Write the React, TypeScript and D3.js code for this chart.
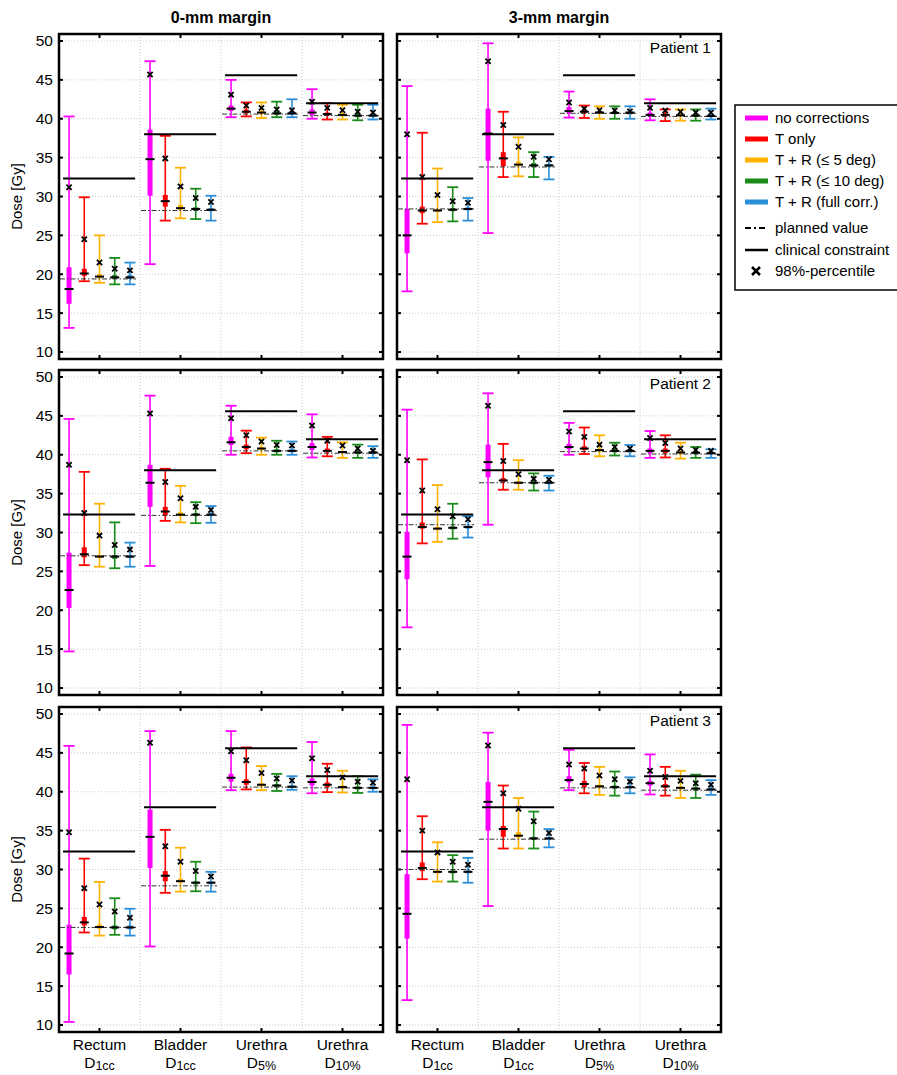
import React from 'react';
import * as d3 from 'd3';

// ---- data ----
const methods = ['no corrections', 'T only', 'T + R (\u2264 5 deg)', 'T + R (\u2264 10 deg)', 'T + R (full corr.)'];
const methodColors = ['#ff00ff', '#ff0000', '#ffb300', '#1a8c1a', '#2a8fd8'];
const structures = ['Rectum', 'Bladder', 'Urethra', 'Urethra'];
const metrics = ['1cc', '1cc', '5%', '10%'];
const constraints = [32.3, 38.0, 45.6, 42.0];
const patients = ['Patient 1', 'Patient 2', 'Patient 3'];
const margins = ['0-mm margin', '3-mm margin'];
const yTicks = [10, 15, 20, 25, 30, 35, 40, 45, 50];

// planned value per structure
const plannedP1m0 = [19.4, 28.2, 40.6, 40.4];
const plannedP1m3 = [28.4, 33.8, 40.7, 40.3];
const plannedP2m0 = [27.0, 32.2, 40.5, 40.2];
const plannedP2m3 = [31.0, 36.4, 40.4, 40.1];
const plannedP3m0 = [22.55, 27.9, 40.6, 40.5];
const plannedP3m3 = [30.0, 33.9, 40.5, 40.2];

// per structure, per method: [min, q1, median, q3, max, p98]
const statsP1m0 = [
  [[13.1, 16.2, 18.1, 20.9, 40.3, 31.2], [19.1, 19.8, 20.1, 20.7, 29.9, 24.5], [18.9, 19.5, 19.7, 20.0, 25.0, 21.5], [18.7, 19.4, 19.6, 19.9, 22.1, 20.7], [18.7, 19.4, 19.6, 19.9, 21.5, 20.5]],
  [[21.3, 30.1, 34.8, 38.6, 47.4, 45.7], [26.9, 28.7, 29.4, 30.2, 37.8, 34.9], [27.2, 28.3, 28.5, 28.9, 33.7, 31.3], [27.1, 28.2, 28.4, 28.6, 31.0, 29.8], [26.9, 28.1, 28.3, 28.5, 30.1, 29.3]],
  [[40.2, 41.0, 41.3, 41.7, 45.0, 43.1], [40.3, 40.7, 40.9, 41.2, 42.1, 41.7], [40.1, 40.6, 40.8, 41.0, 42.1, 41.4], [40.2, 40.5, 40.7, 40.9, 42.2, 41.2], [40.2, 40.5, 40.7, 40.9, 42.5, 41.1]],
  [[40.0, 40.5, 40.8, 41.2, 43.8, 42.2], [39.9, 40.4, 40.6, 40.8, 42.0, 41.4], [39.9, 40.3, 40.5, 40.7, 41.8, 41.1], [39.8, 40.2, 40.4, 40.6, 41.8, 40.9], [39.9, 40.2, 40.4, 40.6, 41.8, 40.8]],
];
const statsP1m3 = [
  [[17.8, 22.7, 25.0, 28.4, 44.2, 38.0], [26.5, 27.85, 28.2, 28.7, 38.2, 32.5], [26.7, 28.0, 28.2, 28.4, 33.6, 30.2], [26.8, 28.1, 28.3, 28.5, 31.2, 29.4], [26.9, 28.2, 28.4, 28.6, 29.8, 29.2]],
  [[25.3, 34.6, 38.1, 41.3, 49.7, 47.4], [32.5, 33.9, 34.9, 35.7, 40.9, 39.2], [32.6, 33.9, 34.1, 34.5, 37.6, 36.4], [32.5, 33.8, 34.0, 34.3, 35.7, 35.1], [32.2, 33.8, 34.0, 34.2, 35.1, 34.8]],
  [[40.15, 40.7, 41.0, 41.5, 43.5, 42.1], [40.1, 40.7, 40.9, 41.1, 41.7, 41.3], [40.0, 40.6, 40.8, 41.0, 41.6, 41.1], [40.0, 40.6, 40.75, 40.9, 41.6, 41.05], [40.0, 40.6, 40.8, 40.9, 41.6, 40.95]],
  [[39.8, 40.3, 40.5, 40.8, 42.5, 41.4], [39.7, 40.3, 40.5, 40.7, 41.2, 41.05], [39.75, 40.3, 40.45, 40.6, 41.2, 40.9], [39.75, 40.25, 40.4, 40.55, 41.2, 40.8], [39.9, 40.2, 40.35, 40.5, 41.3, 40.8]],
];
const statsP2m0 = [
  [[14.7, 20.3, 22.6, 27.4, 44.6, 38.7], [25.8, 26.8, 27.2, 28.1, 37.8, 32.5], [25.6, 26.7, 26.9, 27.1, 33.7, 29.6], [25.4, 26.6, 26.9, 27.1, 31.3, 28.4], [25.6, 26.7, 26.9, 27.1, 28.7, 27.8]],
  [[25.7, 33.3, 36.4, 38.7, 47.6, 45.3], [31.5, 32.2, 32.7, 33.3, 38.2, 36.5], [31.3, 32.1, 32.3, 32.6, 36.0, 34.4], [31.2, 32.1, 32.3, 32.5, 33.9, 33.3], [31.25, 32.1, 32.3, 32.5, 33.4, 32.9]],
  [[40.0, 41.25, 41.6, 42.3, 46.3, 44.7], [40.2, 40.7, 41.0, 41.3, 43.1, 42.5], [40.0, 40.6, 40.8, 41.0, 42.2, 41.7], [40.0, 40.3, 40.5, 40.7, 41.8, 41.25], [40.0, 40.3, 40.5, 40.7, 41.7, 41.2]],
  [[39.65, 40.6, 41.0, 41.5, 45.2, 43.75], [39.8, 40.3, 40.5, 40.8, 42.3, 41.8], [39.6, 40.2, 40.35, 40.5, 41.6, 41.2], [39.6, 40.1, 40.3, 40.45, 41.3, 40.8], [39.6, 40.1, 40.3, 40.45, 41.1, 40.5]],
];
const statsP2m3 = [
  [[17.8, 24.0, 26.9, 30.1, 45.8, 39.3], [28.6, 30.5, 30.7, 31.3, 39.4, 35.4], [28.8, 30.3, 30.5, 30.7, 36.1, 33.0], [29.2, 30.4, 30.6, 30.8, 33.7, 32.1], [29.35, 30.5, 30.7, 30.9, 32.1, 31.7]],
  [[31.0, 37.1, 39.05, 41.3, 47.9, 46.3], [35.5, 36.5, 36.7, 37.0, 41.4, 39.2], [35.5, 36.2, 36.4, 36.6, 39.3, 37.5], [35.4, 36.2, 36.4, 36.6, 37.6, 36.9], [35.4, 36.2, 36.4, 36.6, 37.3, 36.8]],
  [[40.0, 40.7, 41.0, 41.4, 44.1, 43.0], [40.1, 40.6, 40.8, 41.1, 43.5, 42.3], [39.8, 40.4, 40.6, 40.8, 42.5, 41.3], [39.9, 40.3, 40.5, 40.7, 41.55, 41.0], [39.8, 40.3, 40.5, 40.65, 41.25, 40.8]],
  [[39.6, 40.2, 40.5, 40.8, 43.05, 42.15], [39.65, 40.2, 40.5, 40.8, 42.5, 41.5], [39.5, 40.1, 40.3, 40.5, 41.55, 40.8], [39.6, 40.1, 40.25, 40.4, 41.0, 40.6], [39.6, 40.05, 40.2, 40.35, 40.7, 40.5]],
];
const statsP3m0 = [
  [[10.4, 16.5, 19.2, 22.9, 45.9, 34.8], [21.9, 22.8, 23.2, 23.9, 31.4, 27.6], [21.5, 22.4, 22.6, 22.9, 28.4, 25.5], [21.6, 22.3, 22.55, 22.8, 26.3, 24.6], [21.5, 22.3, 22.55, 22.8, 24.95, 23.8]],
  [[20.1, 30.2, 34.2, 37.7, 47.8, 46.3], [27.0, 28.5, 29.2, 29.8, 35.1, 33.0], [27.15, 28.3, 28.5, 28.8, 32.8, 31.0], [27.2, 28.1, 28.3, 28.5, 31.0, 29.8], [27.15, 28.1, 28.3, 28.5, 29.7, 29.1]],
  [[40.2, 41.3, 41.8, 42.3, 47.8, 45.2], [40.3, 40.9, 41.25, 41.6, 45.7, 44.05], [40.2, 40.7, 40.9, 41.1, 43.3, 42.4], [40.1, 40.6, 40.8, 41.0, 42.3, 41.7], [40.25, 40.5, 40.65, 40.8, 42.0, 41.45]],
  [[39.8, 40.8, 41.25, 41.7, 46.4, 44.3], [39.95, 40.6, 40.9, 41.2, 43.6, 42.8], [39.9, 40.4, 40.6, 40.8, 42.7, 41.85], [39.85, 40.3, 40.5, 40.7, 42.0, 41.3], [40.0, 40.3, 40.5, 40.7, 41.6, 41.15]],
];
const statsP3m3 = [
  [[13.2, 21.1, 24.3, 29.4, 48.6, 41.6], [28.75, 29.8, 30.2, 30.9, 36.85, 35.0], [28.45, 29.5, 29.7, 29.9, 33.5, 32.2], [28.45, 29.5, 29.7, 29.9, 31.85, 31.0], [28.3, 29.5, 29.7, 29.9, 31.5, 30.6]],
  [[25.3, 35.0, 38.7, 41.25, 47.6, 45.95], [32.7, 34.2, 35.2, 35.6, 40.8, 39.8], [32.7, 34.1, 34.35, 34.8, 39.2, 37.8], [32.7, 33.8, 34.0, 34.2, 37.45, 36.2], [32.85, 33.8, 34.0, 34.2, 35.2, 34.7]],
  [[40.2, 41.2, 41.5, 42.0, 45.4, 43.5], [39.8, 40.6, 41.0, 41.4, 43.7, 43.0], [39.6, 40.5, 40.7, 40.9, 43.2, 42.1], [39.5, 40.4, 40.6, 40.8, 42.6, 41.6], [39.8, 40.4, 40.6, 40.8, 41.85, 41.3]],
  [[39.65, 40.8, 41.1, 41.4, 44.8, 42.7], [39.5, 40.5, 40.7, 41.0, 43.2, 41.9], [39.2, 40.3, 40.5, 40.7, 42.7, 41.4], [39.2, 40.2, 40.4, 40.6, 42.2, 41.1], [39.6, 40.1, 40.3, 40.5, 41.5, 40.9]],
];

const panelStats = [[statsP1m0, statsP1m3], [statsP2m0, statsP2m3], [statsP3m0, statsP3m3]];
const panelPlanned = [[plannedP1m0, plannedP1m3], [plannedP2m0, plannedP2m3], [plannedP3m0, plannedP3m3]];

// ---- layout ----
const W = 897;
const H = 1075;
const colX = [59, 397];
const rowY = [34, 370, 707];
const panelW = 324;
const panelH = 325;
const font = '"Liberation Sans", Arial, Helvetica, sans-serif';

type PanelProps = {row: number; col: number};

const Panel: React.FC<PanelProps> = ({row, col}) => {
  const x0 = colX[col];
  const y0 = rowY[row];
  const stats = panelStats[row][col];
  const planned = panelPlanned[row][col];

  const y = d3.scaleLinear().domain([9.1, 50.9]).range([y0 + panelH, y0]);
  const xBand = d3.scaleBand<number>().domain([0, 1, 2, 3]).range([x0, x0 + panelW]);
  const bw = xBand.bandwidth();
  const xm = d3.scalePoint<string>().domain(methods).range([-0.376 * bw, 0.376 * bw]);
  const cx = (i: number) => xBand(i)! + bw / 2;

  const capW = 11;
  const medW = 9;
  const boxW = 5;
  const xs = 2.6;

  return (
    <g>
      {/* grid */}
      {yTicks.map(t => (
        <line key={'gy' + t} x1={x0} x2={x0 + panelW} y1={y(t)} y2={y(t)}
              stroke="#c8c8c8" strokeWidth={1} strokeDasharray="1,2"/>
      ))}
      {[1, 2, 3].map(i => (
        <line key={'gx' + i} x1={xBand(i)!} x2={xBand(i)!} y1={y0} y2={y0 + panelH}
              stroke="#c8c8c8" strokeWidth={1} strokeDasharray="1,2"/>
      ))}

      {/* ticks */}
      {yTicks.map(t => (
        <g key={'t' + t}>
          <line x1={x0} x2={x0 + 4} y1={y(t)} y2={y(t)} stroke="#000" strokeWidth={2}/>
          <line x1={x0 + panelW - 4} x2={x0 + panelW} y1={y(t)} y2={y(t)} stroke="#000" strokeWidth={2}/>
        </g>
      ))}
      {[0, 1, 2, 3].map(i => (
        <g key={'tx' + i}>
          <line x1={cx(i)} x2={cx(i)} y1={y0} y2={y0 + 4} stroke="#000" strokeWidth={2}/>
          <line x1={cx(i)} x2={cx(i)} y1={y0 + panelH - 4} y2={y0 + panelH} stroke="#000" strokeWidth={2}/>
        </g>
      ))}

      {/* groups */}
      {stats.map((group, gi) => {
        const c = cx(gi);
        return (
          <g key={'g' + gi}>
            {group.map((s, mi) => {
              const [mn, q1, , q3, mx] = s;
              const x = c + xm(methods[mi])!;
              const col = methodColors[mi];
              return (
                <g key={'m' + mi}>
                  <line x1={x} x2={x} y1={y(mn)} y2={y(mx)} stroke={col} strokeWidth={1.6}/>
                  <line x1={x - capW / 2} x2={x + capW / 2} y1={y(mn)} y2={y(mn)} stroke={col} strokeWidth={1.8}/>
                  <line x1={x - capW / 2} x2={x + capW / 2} y1={y(mx)} y2={y(mx)} stroke={col} strokeWidth={1.8}/>
                  <rect x={x - boxW / 2} width={boxW} y={y(q3)} height={y(q1) - y(q3)} fill={col}/>
                </g>
              );
            })}
            {/* planned value */}
            <line x1={xBand(gi)! + 1} x2={xBand(gi)! + bw - 4} y1={y(planned[gi])} y2={y(planned[gi])}
                  stroke="#333" strokeWidth={1} strokeDasharray="5,2,1.5,2"/>
            {/* clinical constraint */}
            <line x1={c - 0.45 * bw} x2={c + 0.44 * bw} y1={y(constraints[gi])} y2={y(constraints[gi])}
                  stroke="#000" strokeWidth={2}/>
            {group.map((s, mi) => {
              const x = c + xm(methods[mi])!;
              const ym = y(s[2]);
              const yp = y(s[5]);
              return (
                <g key={'k' + mi}>
                  <line x1={x - medW / 2} x2={x + medW / 2} y1={ym} y2={ym} stroke="#000" strokeWidth={2}/>
                  <path d={`M${x - xs},${yp - xs}L${x + xs},${yp + xs}M${x - xs},${yp + xs}L${x + xs},${yp - xs}`}
                        stroke="#000" strokeWidth={1.8}/>
                </g>
              );
            })}
          </g>
        );
      })}

      {/* frame */}
      <rect x={x0} y={y0} width={panelW} height={panelH} fill="none" stroke="#000" strokeWidth={2.5}/>

      {/* y tick labels */}
      {col === 0 && yTicks.map(t => (
        <text key={'yl' + t} x={x0 - 6} y={y(t)} dy="0.35em" textAnchor="end" fontSize={15.5} fontFamily={font}>{t}</text>
      ))}
      {col === 0 && (
        <text transform={`translate(22,${y0 + panelH / 2}) rotate(-90)`} textAnchor="middle" fontSize={15}
              fontFamily={font}>Dose [Gy]</text>
      )}
      {col === 1 && (
        <text x={x0 + panelW - 10} y={y0 + 19} textAnchor="end" fontSize={15.5} fontFamily={font}>{patients[row]}</text>
      )}
      {row === 2 && structures.map((s, i) => (
        <g key={'xl' + i}>
          <text x={cx(i)} y={y0 + panelH + 18} textAnchor="middle" fontSize={15.5} fontFamily={font}>{s}</text>
          <text x={cx(i)} y={y0 + panelH + 36} textAnchor="middle" fontSize={15.5} fontFamily={font}>
            D<tspan fontSize={12.5} dy={2}>{metrics[i]}</tspan>
          </text>
        </g>
      ))}
      {row === 0 && (
        <text x={x0 + panelW / 2} y={y0 - 11} textAnchor="middle" fontSize={16} fontWeight="bold"
              fontFamily={font}>{margins[col]}</text>
      )}
    </g>
  );
};

const Legend: React.FC = () => {
  const lx = 735;
  const ly = 105;
  const itemY = [118, 139, 160, 181, 202];
  return (
    <g fontFamily={font} fontSize={15}>
      <rect x={lx} y={ly} width={200} height={185} fill="#fff" stroke="#000" strokeWidth={1.5}/>
      {methods.map((m, i) => (
        <g key={m}>
          <rect x={745} y={itemY[i] - 2.5} width={23} height={5} fill={methodColors[i]}/>
          <text x={775} y={itemY[i]} dy="0.35em">{m}</text>
        </g>
      ))}
      <line x1={745} x2={768} y1={228} y2={228} stroke="#000" strokeWidth={2} strokeDasharray="6,3,2,3"/>
      <text x={775} y={228} dy="0.35em">planned value</text>
      <line x1={745} x2={768} y1={250} y2={250} stroke="#000" strokeWidth={2.5}/>
      <text x={775} y={250} dy="0.35em">clinical constraint</text>
      <path d="M752,267L760,275M752,275L760,267" stroke="#000" strokeWidth={2.5}/>
      <text x={775} y={271} dy="0.35em">98%-percentile</text>
    </g>
  );
};

export default function App() {
  return (
    <svg width={W} height={H} style={{display: 'block', position: 'absolute', left: 0, top: 0, background: '#fff'}}>
      <rect width={W} height={H} fill="#fff"/>
      {[0, 1, 2].map(r => [0, 1].map(c => <Panel key={`${r}-${c}`} row={r} col={c}/>))}
      <Legend/>
    </svg>
  );
}
